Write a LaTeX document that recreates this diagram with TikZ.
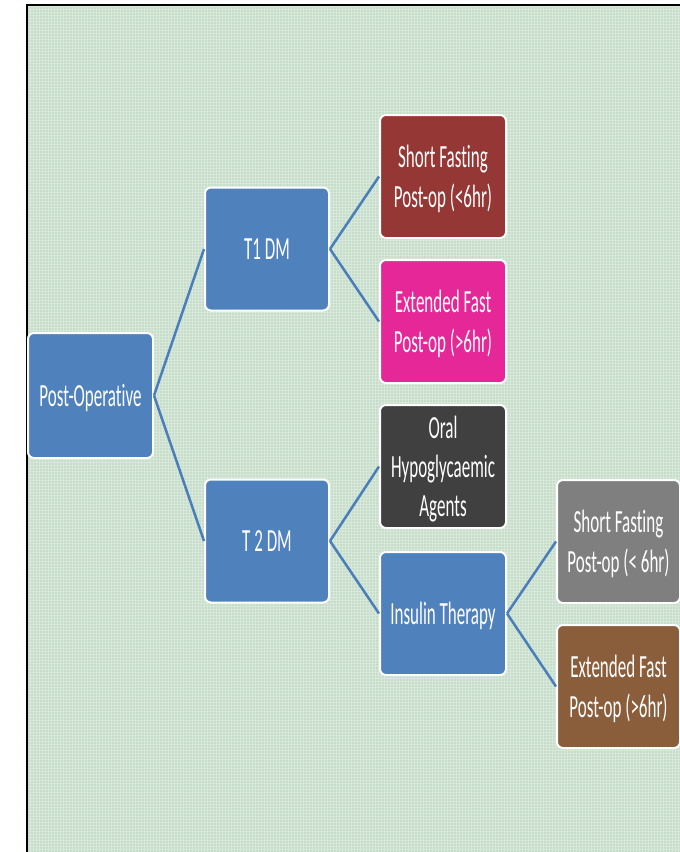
\documentclass[tikz,border=0pt]{standalone}
\usepackage{fontspec}
\setmainfont{Carlito}[Ligatures={NoCommon}]
\usepackage{graphicx}
\definecolor{bgc}{RGB}{198,221,202}
\definecolor{boxblue}{RGB}{79,129,189}
\definecolor{boxred}{RGB}{149,55,53}
\definecolor{boxpink}{RGB}{229,39,152}
\definecolor{boxdark}{RGB}{64,64,64}
\definecolor{boxgray}{RGB}{127,127,127}
\definecolor{boxbrown}{RGB}{138,93,59}
\definecolor{lineblue}{RGB}{74,126,187}
\newcommand{\boxtext}[1]{\raisebox{-3pt}[\height][\depth]{\scalebox{1}[1.9]{\begin{tabular}{@{}c@{}}#1\end{tabular}}}}
\tikzset{
  x=1pt, y=-1pt,
  box/.style={draw=white, line width=2pt, rounded corners=6pt, text=white,
    minimum width=124pt, minimum height=123pt, inner sep=0pt,
    font=\fontsize{17}{20.7}\selectfont},
  conn/.style={draw=lineblue, line width=2.5pt}
}
\begin{document}
\begin{tikzpicture}
\useasboundingbox (0,0) rectangle (680,852);
\fill[bgc] (27,5) rectangle (680,852);
\draw[white, opacity=0.3, line width=1pt] (28,6) grid[step=3pt] (680,852);
\draw[black, line width=2.2pt] (27,852) -- (27,5) -- (680,5);

\node[box, fill=boxblue, minimum width=125pt, minimum height=125pt] (post) at (90.5,395.5) {\boxtext{Post-Operative}};
\node[box, fill=boxblue] (t1) at (267,249) {\boxtext{T1 DM}};
\node[box, fill=boxblue] (t2) at (267,541) {\boxtext{T 2 DM}};
\node[box, fill=boxred, minimum width=126pt] (sf1) at (443,176.5) {\boxtext{Short Fasting\\Post-op (<6hr)}};
\node[box, fill=boxpink, minimum width=126pt] (ef1) at (443,321.5) {\boxtext{Extended Fast\\Post-op (>6hr)}};
\node[box, fill=boxdark, minimum width=126pt] (oral) at (443,466.5) {\boxtext{Oral\\Hypoglycaemic\\Agents}};
\node[box, fill=boxblue, minimum width=126pt] (ins) at (443,613.5) {\boxtext{Insulin Therapy}};
\node[box, fill=boxgray, minimum width=123pt] (sf2) at (618.5,541.5) {\boxtext{Short Fasting\\Post-op (< 6hr)}};
\node[box, fill=boxbrown, minimum width=123pt] (ef2) at (618.5,686.5) {\boxtext{Extended Fast\\Post-op (>6hr)}};

\draw[conn] (post.east) -- (t1.west);
\draw[conn] (post.east) -- (t2.west);
\draw[conn] (t1.east) -- (sf1.west);
\draw[conn] (t1.east) -- (ef1.west);
\draw[conn] (t2.east) -- (oral.west);
\draw[conn] (t2.east) -- (ins.west);
\draw[conn] (ins.east) -- (sf2.west);
\draw[conn] (ins.east) -- (ef2.west);
\end{tikzpicture}
\end{document}
